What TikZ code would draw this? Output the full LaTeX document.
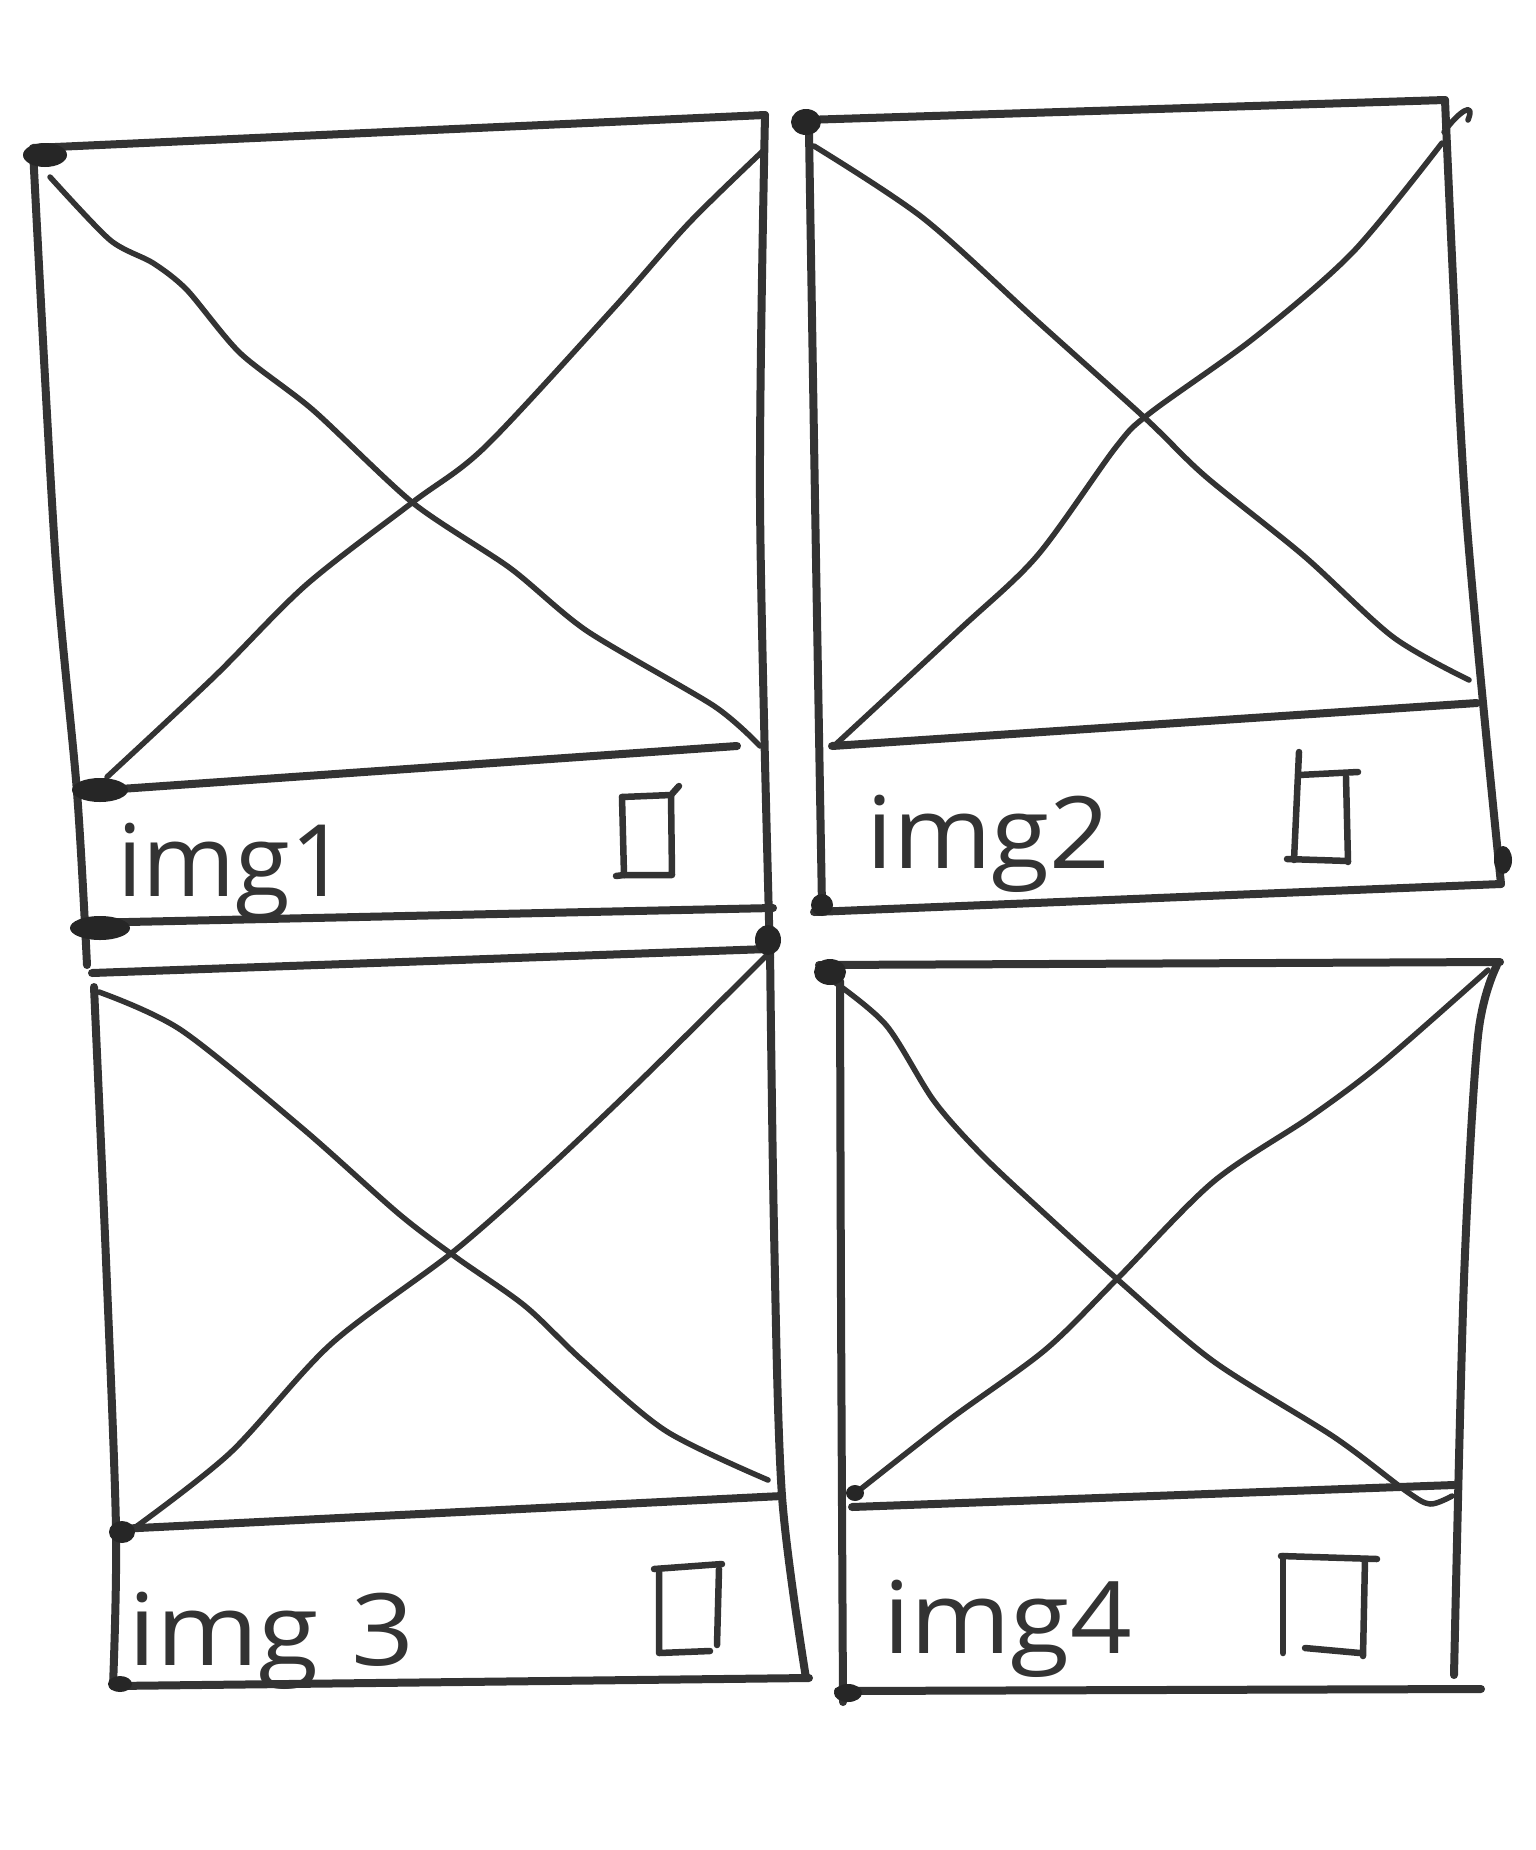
\documentclass[tikz,border=0pt]{standalone}
\usepackage{fontspec}
\setmainfont{Open Sans}
\begin{document}
\begin{tikzpicture}[x=1pt,y=-1pt,
  ink/.style={draw=black!80, line cap=round, line join=round},
  boxline/.style={ink, line width=8pt},
  diagline/.style={ink, line width=5.5pt},
  iconline/.style={ink, line width=6.5pt},
  blob/.style={fill=black!85, draw=none},
  lbl/.style={inner sep=0pt, anchor=base west, text=black!80, font=\fontsize{100}{100}\selectfont}]
\useasboundingbox[fill=white] (0,0) rectangle (1535,1850);

% ---------- Panel 1 ----------
\draw[boxline] (33,148) -- (765,115);
\draw[boxline] plot[smooth] coordinates {(33,150) (55,550) (77,792) (87,965)};
\draw[boxline] plot[smooth] coordinates {(765,115) (760,500) (770,958)};
\draw[boxline] (77,792) -- (737,746);
\draw[boxline] (82,923) -- (773,908);
\draw[diagline] plot[smooth, tension=0.45] coordinates {(50,177) (110,240) (153,263) (187,290) (240,353) (313,410) (413,503) (510,568) (587,631) (714,706) (760,746)};
\draw[diagline] plot[smooth] coordinates {(107,777) (214,677) (306,585) (413,502) (485,447) (612,310) (689,223) (765,149)};
\fill[blob] (45,155) ellipse (22pt and 12pt);
\fill[blob] (100,790) ellipse (28pt and 12pt);
\fill[blob] (100,928) ellipse (30pt and 12pt);
\node[lbl] (t1) at (117,896) {img1};
\draw[iconline] (622,797) -- (671,795) -- (679,786);
\draw[iconline] (622,797) -- (624,875) -- (616,876);
\draw[iconline] (624,875) -- (672,875) -- (671,795);

% ---------- Panel 2 ----------
\draw[boxline] (804,120) -- (1445,100);
\draw[boxline] plot[smooth] coordinates {(809,132) (815,500) (822,907)};
\draw[boxline] plot[smooth] coordinates {(1445,100) (1465,500) (1501,884)};
\draw[boxline] (814,912) -- (1501,884);
\draw[boxline] (832,746) -- (1477,703);
\draw[diagline] plot[smooth] coordinates {(814,146) (923,218) (1037,321) (1146,419) (1205,476) (1304,556) (1393,637) (1469,680)};
\draw[diagline] plot[smooth] coordinates {(834,746) (958,631) (1037,556) (1116,447) (1150,413) (1254,338) (1353,252) (1442,143)};
\draw[diagline] (1444,132) .. controls (1458,112) and (1476,100) .. (1468,120);
\fill[blob] (806,122) ellipse (15pt and 13pt);
\fill[blob] (1503,860) ellipse (9pt and 14pt);
\fill[blob] (822,905) ellipse (11pt and 11pt);
\node[lbl, xscale=1.06] (t2) at (866,868) {img2};
\draw[iconline] (1299,752) -- (1294,860);
\draw[iconline] (1299,775) -- (1358,772);
\draw[iconline] (1346,777) -- (1348,862);
\draw[iconline] (1287,859) -- (1348,861);

% ---------- Panel 3 ----------
\draw[boxline] (92,973) -- (768,949);
\draw[boxline] plot[smooth] coordinates {(94,987) (106,1260) (116,1529) (113,1686)};
\draw[boxline] plot[smooth] coordinates {(770,949) (774,1230) (782,1496) (806,1678)};
\draw[boxline] (118,1529) -- (782,1496);
\draw[boxline] (113,1686) -- (809,1678);
\draw[diagline] plot[smooth] coordinates {(99,992) (181,1030) (302,1128) (399,1214) (457,1258) (525,1306) (583,1361) (666,1431) (768,1480)};
\draw[diagline] plot[smooth] coordinates {(133,1529) (230,1453) (331,1344) (453,1252) (545,1171) (642,1079) (768,954)};
\fill[blob] (768,940) ellipse (13pt and 15pt);
\fill[blob] (122,1532) ellipse (13pt and 11pt);
\fill[blob] (120,1684) ellipse (12pt and 8pt);
\node[lbl, xscale=1.1] (t3) at (128,1665) {img\kern 30pt3};
\draw[iconline] (654,1569) -- (722,1564);
\draw[iconline] (659,1569) -- (659,1653) -- (710,1651);
\draw[iconline] (719,1569) -- (717,1645);

% ---------- Panel 4 ----------
\draw[boxline] (819,965) -- (1500,962);
\draw[boxline] plot[smooth] coordinates {(840,981) (841,1300) (843,1702)};
\draw[boxline] plot[smooth] coordinates {(1497,965) (1478,1036) (1464,1279) (1454,1675)};
\draw[boxline] (838,1691) -- (1481,1689);
\draw[boxline] (852,1507) -- (1454,1485);
\draw[diagline] plot[smooth] coordinates {(833,981) (886,1025) (934,1101) (982,1155) (1045,1214) (1117,1279) (1213,1361) (1334,1437) (1406,1491) (1430,1504) (1452,1496)};
\draw[diagline] plot[smooth] coordinates {(852,1496) (949,1420) (1045,1350) (1117,1279) (1213,1182) (1310,1117) (1382,1063) (1488,970)};
\fill[blob] (830,972) ellipse (16pt and 13pt);
\fill[blob] (855,1493) ellipse (9pt and 8pt);
\fill[blob] (848,1693) ellipse (14pt and 9pt);
\node[lbl, xscale=1.08] (t4) at (883,1653) {img4};
\draw[iconline] (1281,1556) -- (1377,1559);
\draw[iconline] (1283,1556) -- (1283,1653);
\draw[iconline] (1305,1648) -- (1360,1653);
\draw[iconline] (1365,1559) -- (1363,1656);
\end{tikzpicture}
\end{document}
